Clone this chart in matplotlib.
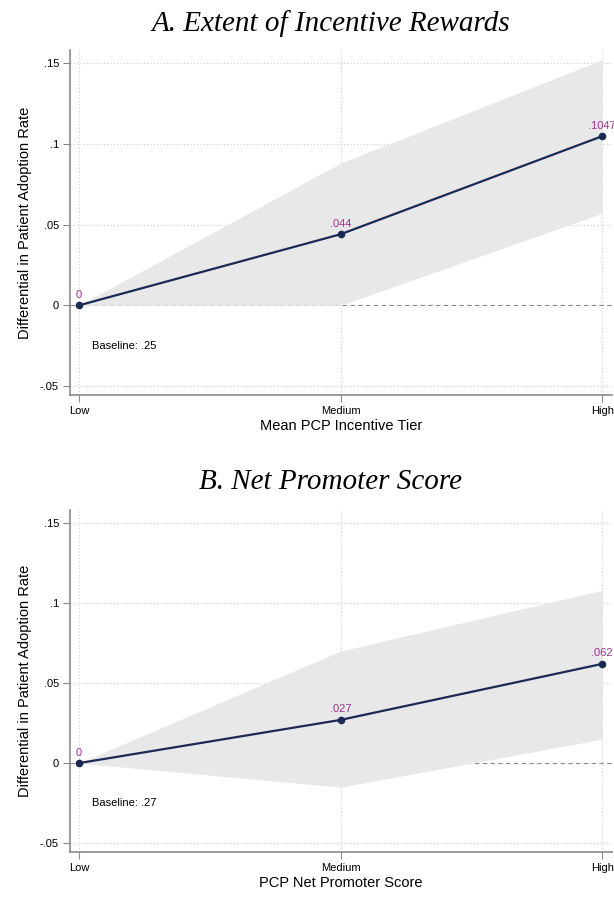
import numpy as np
import matplotlib
matplotlib.use("Agg")
import matplotlib.pyplot as plt

# tiers on the x axis
tiers = ["Low", "Medium", "High"]

# panel A: extent of incentive rewards
est_a = [0.0, 0.044, 0.1047]
lo_a = [0.0, 0.0, 0.057]
hi_a = [0.0, 0.088, 0.152]
labels_a = ["0", ".044", ".1047"]

# panel B: net promoter score
est_b = [0.0, 0.027, 0.062]
lo_b = [0.0, -0.015, 0.015]
hi_b = [0.0, 0.070, 0.108]
labels_b = ["0", ".027", ".062"]

yticks = [-0.05, 0, 0.05, 0.1, 0.15]
ytick_labels = ["-.05", "0", ".05", ".1", ".15"]

LINE = "#1b2a55"
BAND = "#e8e8e8"
LABEL = "#a0308f"
SPINE = "#8a8a8a"

plt.rcParams["font.family"] = ["Liberation Sans", "DejaVu Sans"]

fig = plt.figure(figsize=(6.14, 8.97), dpi=100)


def panel(rect, title, title_y, est, lo, hi, labels, xlabel, baseline):
    ax = fig.add_axes(rect)
    x = np.arange(len(tiers))

    # grid and zero reference sit under the confidence band
    for yv in yticks:
        if yv != 0:
            ax.axhline(yv, color="#cccccc", lw=0.8, ls=(0, (1, 2)), zorder=0)
    for xv in x:
        ax.axvline(xv, color="#cccccc", lw=0.8, ls=(0, (1, 2)), zorder=0)
    ax.axhline(0, color="#8a8a8a", lw=0.8, ls=(0, (4, 3)), zorder=0.5)

    ax.fill_between(x, lo, hi, color=BAND, lw=0, zorder=1)
    ax.plot(x, est, color=LINE, lw=1.6, marker="o", ms=4.5, zorder=3)
    for xi, yi, s in zip(x, est, labels):
        ax.annotate(s, (xi, yi), xytext=(0, 4), textcoords="offset points",
                    ha="center", va="bottom", color=LABEL, fontsize=8,
                    annotation_clip=False, zorder=4)

    ax.text(0.05, -0.025, baseline, fontsize=8, va="center", ha="left")

    ax.set_xlim(-0.034, 2.038)
    ax.set_ylim(-0.0555, 0.158)
    ax.set_xticks(x)
    ax.set_xticklabels(tiers, fontsize=8)
    ax.set_yticks(yticks)
    ax.set_yticklabels(ytick_labels, fontsize=8)
    ax.set_xlabel(xlabel, fontsize=10.5, labelpad=2)
    ax.set_ylabel("Differential in Patient Adoption Rate", fontsize=10.5, labelpad=6)

    for side in ("top", "right"):
        ax.spines[side].set_visible(False)
    for side in ("left", "bottom"):
        ax.spines[side].set_color(SPINE)
        ax.spines[side].set_linewidth(1.2)
    ax.tick_params(colors=SPINE, labelcolor="black", length=5, width=0.8, pad=3)

    fig.text(0.539, title_y, title, ha="center", va="center",
             family="Liberation Serif", style="italic", fontsize=21)
    return ax


panel([0.114, 0.5596, 0.883, 0.3846], "A. Extent of Incentive Rewards", 0.974,
      est_a, lo_a, hi_a, labels_a, "Mean PCP Incentive Tier", "Baseline: .25")
panel([0.114, 0.0502, 0.883, 0.381], "B. Net Promoter Score", 0.463,
      est_b, lo_b, hi_b, labels_b, "PCP Net Promoter Score", "Baseline: .27")

fig.savefig("out.png", dpi=100)
